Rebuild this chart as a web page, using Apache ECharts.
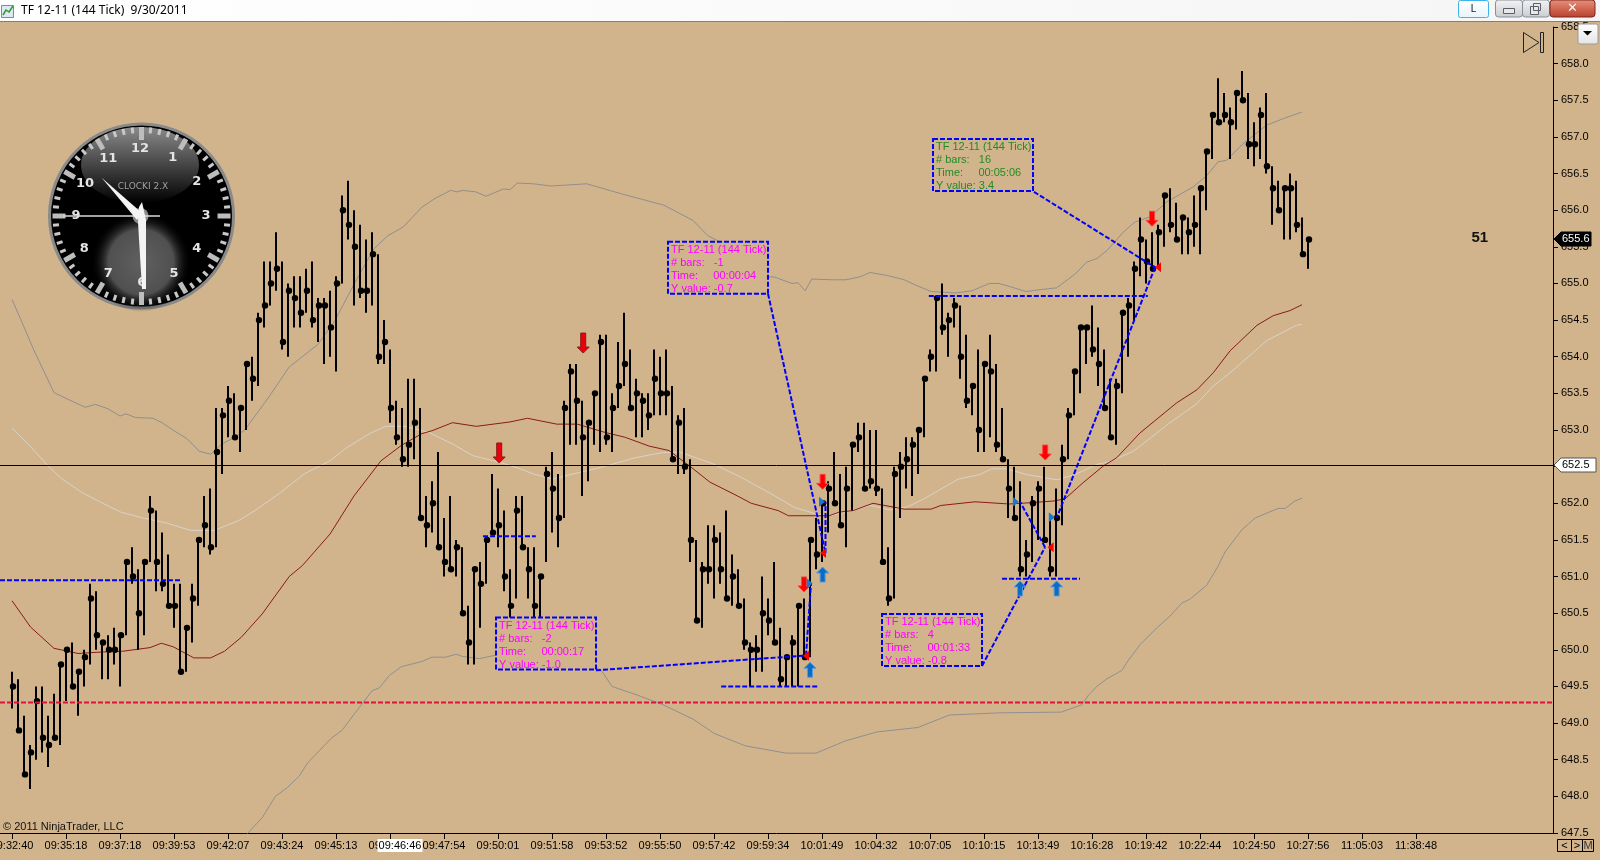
<!DOCTYPE html>
<html><head><meta charset="utf-8">
<style>html,body{margin:0;padding:0;background:#d2b48c;overflow:hidden}#c{width:1600px;height:860px}</style>
<script src="https://cdn.jsdelivr.net/npm/echarts@6/dist/echarts.min.js"></script>
</head><body><div id="c"></div>
<script>
// ---- tick labels
const timeLabels = ['09:32:40','09:35:18','09:37:18','09:39:53','09:42:07','09:43:24','09:45:13','09:46:12','09:47:54','09:50:01','09:51:58','09:53:52','09:55:50','09:57:42','09:59:34','10:01:49','10:04:32','10:07:05','10:10:15','10:13:49','10:16:28','10:19:42','10:22:44','10:24:50','10:27:56','11:05:03','11:38:48'];
// ---- bars
const highs = [649.7,649.6,649.1,648.7,649.5,649.5,649.1,649.4,649.8,650.0,
650.1,649.7,650.0,650.9,650.8,650.1,650.2,650.3,650.2,651.2,
651.4,651.1,651.2,652.1,651.9,651.6,651.3,650.9,650.9,650.3,
650.9,651.5,652.1,652.2,653.3,653.3,653.6,653.5,653.3,653.9,
654.0,654.6,655.3,655.3,655.7,655.3,655.0,655.1,655.1,655.2,
655.3,654.8,654.8,654.9,655.1,656.2,656.4,656.0,655.8,655.6,
655.7,655.4,654.5,654.1,653.4,653.3,653.7,653.7,653.3,652.1,
652.3,652.7,651.8,652.1,651.5,651.4,650.6,651.1,651.2,651.5,
652.4,652.2,651.9,651.1,652.1,652.1,651.4,651.4,651.0,652.5,
652.7,652.4,653.4,653.9,653.9,653.4,653.1,653.5,654.3,654.3,
653.5,654.2,654.6,654.1,653.7,653.5,653.5,654.1,654.0,654.1,
653.6,653.2,653.3,652.6,651.5,651.2,651.7,651.7,651.6,651.9,
651.3,651.1,650.7,650.1,650.2,651.0,650.7,651.2,650.3,649.9,
650.2,650.6,650.7,651.5,651.8,652.0,652.3,652.7,652.4,652.5,
652.8,653.1,653.1,653.0,653.0,652.2,651.4,652.5,652.7,652.9,
652.9,653.0,653.7,654.1,654.8,655.0,654.6,654.8,654.7,654.3,
653.6,654.1,653.9,654.3,653.9,653.3,652.6,652.5,652.3,651.5,
652.1,652.3,652.5,651.8,652.2,652.8,653.3,653.8,654.4,654.4,
654.7,654.4,654.1,653.7,653.7,654.6,654.8,655.3,655.9,655.6,
655.7,655.8,656.2,656.3,656.1,655.9,655.9,656.2,656.3,656.8,
657.3,657.8,657.6,657.4,657.6,657.9,657.6,657.2,657.4,657.6,
656.6,656.4,656.3,656.5,656.4,655.9,655.6];
const lows = [649.2,648.9,648.3,648.1,648.5,648.6,648.4,648.8,648.7,649.3,
649.5,649.1,649.5,649.8,650.0,649.6,649.6,649.8,649.5,650.2,
650.9,650.0,650.2,651.2,650.8,650.8,650.6,650.3,649.7,649.7,
650.1,650.6,651.4,651.3,651.4,652.4,652.9,652.9,652.7,653.0,
653.4,653.6,654.4,654.7,654.9,654.1,654.0,654.4,654.4,654.6,
654.4,654.2,653.9,654.0,653.8,655.0,655.6,654.7,654.8,654.6,
654.7,653.9,653.9,653.1,652.8,652.5,652.5,652.6,651.8,651.4,
651.6,651.4,651.0,651.1,651.0,650.5,649.8,649.8,650.3,650.9,
651.6,651.4,650.8,650.4,650.7,651.4,650.7,650.4,650.4,651.2,
651.6,651.4,651.8,652.8,652.8,652.1,652.3,652.8,652.7,652.8,
652.7,653.3,653.6,653.3,652.9,652.9,653.0,653.2,653.2,653.2,
652.6,652.4,652.4,651.2,650.4,650.3,650.9,650.7,650.9,650.7,
650.6,650.6,650.0,649.5,649.7,649.7,650.2,650.1,649.5,649.5,
649.5,649.5,649.9,649.9,651.1,651.2,651.6,652.0,651.7,651.4,
651.9,652.7,652.2,652.2,652.1,651.2,650.6,650.7,651.8,652.2,
652.1,652.4,652.9,653.8,653.8,654.3,654.0,654.4,653.7,653.3,
653.2,652.7,652.7,652.9,652.7,652.6,651.8,651.8,651.0,651.0,
651.2,651.5,651.5,651.0,651.0,651.7,652.6,653.2,653.5,653.9,
654.0,653.6,653.3,652.9,652.8,653.5,654.0,654.5,655.1,655.0,
655.2,655.2,655.5,655.7,655.6,655.4,655.4,655.5,655.4,656.0,
656.7,657.2,657.2,656.7,657.1,657.5,656.7,656.6,656.7,656.5,
655.8,656.0,655.6,655.6,655.7,655.4,655.2];
const closes = [649.5,648.9,648.3,648.6,649.3,648.8,648.7,648.8,649.8,650.0,
649.5,649.7,649.9,650.7,650.2,650.1,650.0,650.0,650.2,651.2,
651.0,650.5,651.2,651.9,651.2,650.9,650.6,650.6,649.7,650.3,
650.7,651.5,651.7,651.4,652.7,653.2,653.4,652.9,653.3,653.9,
653.7,654.5,654.7,655.0,655.2,654.2,654.9,654.8,654.6,654.9,
654.5,654.7,654.7,654.4,655.0,656.0,655.8,655.5,654.9,654.9,
655.4,654.0,654.2,653.3,652.9,652.6,652.8,653.1,651.8,651.7,
652.0,651.4,651.2,651.1,651.4,650.5,650.1,651.1,650.9,651.5,
651.6,651.7,651.0,650.6,651.9,651.4,651.1,650.6,651.0,652.4,
652.2,651.8,653.3,653.8,653.4,652.9,653.1,653.5,654.2,652.9,
653.3,653.6,653.9,653.3,653.5,653.4,653.2,653.7,653.5,653.5,
652.6,653.1,652.5,651.5,650.4,651.1,651.1,651.5,651.1,650.7,
651.0,650.6,650.1,650.0,650.0,650.5,650.4,650.1,649.6,649.9,
650.1,650.6,649.9,651.5,651.3,652.0,652.2,652.0,651.7,652.2,
652.8,652.9,652.2,652.3,652.2,651.2,650.7,652.4,652.5,652.6,
652.8,653.0,653.7,654.0,654.8,654.4,654.5,654.7,654.0,653.4,
653.6,653.0,653.9,653.8,652.8,652.6,652.2,651.8,651.1,651.3,
652.0,652.2,651.5,651.1,651.8,652.6,653.2,653.8,654.4,654.4,
654.1,653.9,653.3,652.9,653.6,654.6,654.7,655.2,655.6,655.3,
655.2,655.7,656.2,655.8,655.6,655.9,655.7,655.8,656.3,656.8,
657.3,657.2,657.3,657.2,657.6,657.5,656.9,656.9,657.3,656.6,
656.3,656.0,656.3,656.3,655.8,655.4,655.6];
// ---- indicator lines, as [bar index, price] readings
const upperBand = [[0,654.78],[1.4,654.52],[3.7,654.08],[7,653.51],[9.3,653.42],[12.2,653.31],[13.9,653.35],[16,653.29],[18,653.19],[19,653.22],[20.6,653.17],[23.5,653.16],[25,653.1],[27,652.99],[29.2,652.88],[31.2,652.71],[33.1,652.67],[35,652.81],[37.1,652.9],[38.8,653],[42.8,653.45],[46.2,653.86],[51,654.17],[53.8,654.49],[57,654.99],[60.3,655.47],[62.6,655.65],[65.2,655.77],[68.3,656.04],[70.5,656.16],[73.1,656.27],[74.2,656.25],[75.1,656.27],[77.3,656.25],[79,656.19],[81.9,656.29],[83,656.28],[84.2,656.37],[86.9,656.36],[89.8,656.33],[95.8,656.36],[101.7,656.22],[108.6,656.07],[113.5,655.86],[116,655.65],[117.7,655.58],[122,655.3],[126,655.09],[127,655.09],[130,655.0],[131,655.01],[132.2,654.9],[133.3,655.06],[136.7,655.05],[139,655.05],[141.3,655.09],[143,655.15],[145.8,655.11],[148.7,655.05],[150.8,654.97],[153.2,654.89],[157.2,654.87],[160,654.9],[162.9,655],[164.5,655],[166.2,654.96],[169,654.89],[171.8,654.92],[174.1,654.94],[177.2,655.13],[179.1,655.29],[180.8,655.34],[182.5,655.45],[185.2,655.7],[187.2,655.84],[189.7,655.91],[192.4,656.11],[196.9,656.32],[199.1,656.47],[201,656.66],[202.4,656.68],[205.2,656.91],[209.1,657.16],[211.9,657.25],[215,657.34]];
const lowerBand = [[39.1,647.48],[41.7,647.71],[43.9,648.0],[45.9,648.12],[47.9,648.28],[49.3,648.46],[53.3,648.8],[55,648.9],[57.2,649.14],[60,649.44],[61.2,649.48],[62.9,649.65],[64.9,649.77],[68.3,649.84],[70,649.9],[72.3,649.9],[74,649.94],[75.1,649.91],[77.9,649.88],[80.8,649.93],[85,649.95],[90,649.95],[95,649.88],[98.3,649.71],[100,649.5],[104.3,649.38],[108.5,649.25],[113.6,649.05],[117,648.86],[122.2,648.69],[129,648.59],[134,648.59],[139,648.76],[144.2,648.88],[151,648.94],[156.2,649.11],[164.7,649.14],[174.9,649.15],[178.3,649.25],[179.4,649.38],[180.8,649.5],[182.4,649.6],[185,649.72],[186,649.85],[188,650.07],[190.8,650.3],[193,650.46],[195,650.64],[196.3,650.69],[199.1,650.88],[201,651.14],[202.2,651.34],[205,651.64],[207.2,651.8],[211,651.93],[212.2,651.93],[213.8,652.03],[215,652.07]];
const middleBand = [[0,653.02],[0.5,652.99],[3.7,652.72],[6,652.51],[8.2,652.34],[11.6,652.15],[14.4,652.03],[18.1,651.88],[21.8,651.8],[25.8,651.73],[29.7,651.63],[33.7,651.63],[37.7,651.76],[40.5,651.9],[44.8,652.15],[48.7,652.4],[53,652.58],[55.8,652.76],[59.8,652.96],[62.3,653.05],[65.5,653.05],[69.4,652.97],[73.4,652.81],[76.8,652.65],[81.3,652.56],[84.7,652.47],[86.9,652.4],[90.2,652.33],[92.5,652.38],[98.2,652.49],[103.8,652.62],[108.3,652.69],[111.2,652.7],[116.8,652.54],[121.4,652.36],[126.5,652.13],[130.5,651.94],[133.8,651.86],[136.2,651.83],[140.2,651.9],[143,651.97],[146.3,651.91],[149.2,651.95],[152,652.06],[157.7,652.33],[161.2,652.39],[163.3,652.47],[165.7,652.47],[169.2,652.39],[174.2,652.32],[177.4,652.4],[180.8,652.53],[183,652.57],[186.9,652.71],[193,653.1],[197.5,653.36],[200.2,653.6],[203,653.78],[206.9,654.06],[209.1,654.22],[214.1,654.43],[215,654.44]];
const emaLine = [[0,650.67],[3.1,650.31],[7,650.02],[8.2,650],[11,649.95],[15,649.97],[18.4,649.98],[23,650.03],[24.9,650.09],[26.9,650.04],[30.3,649.89],[33.1,649.89],[35.4,649.98],[38.2,650.17],[41.7,650.49],[46.2,651],[48.4,651.15],[53,651.58],[57,652.1],[61.5,652.58],[64.9,652.79],[68.3,652.95],[70,652.99],[73.4,653.1],[77.4,653.05],[83,653.11],[85.9,653.16],[90.8,653.08],[94.2,653.08],[98.7,652.97],[102.2,652.9],[106.2,652.78],[109.5,652.72],[112.9,652.51],[116.3,652.29],[120.9,652.1],[123.2,652],[127.7,651.9],[129.4,651.83],[133.8,651.83],[136.2,651.83],[137.9,651.88],[140.2,651.9],[143.5,652],[148.7,651.92],[153.2,651.92],[154.8,651.97],[160.5,652.02],[166.2,651.99],[170.2,652.01],[173.5,652.03],[175.5,652.06],[178.5,652.28],[181.9,652.51],[184.1,652.62],[188,652.96],[194.1,653.37],[197.5,653.55],[200.2,653.78],[203,654.08],[207.5,654.43],[210.2,654.56],[213,654.63],[215,654.71]];
// ---- drawn objects, in [bar index, price]
const rulerSegments = [
 [-2,650.95,28.3,650.95],[78.5,651.55,87.3,651.55],[118.2,649.5,134.3,649.5],[152.8,654.83,189.3,654.83],[165,650.97,178,650.97],
 [97.33,649.72,131.83,649.92],[132.33,649.92,133.17,650.91],
 [126,654.86,135.58,651.32],[135.58,651.32,135.58,652.02],
 [161.67,649.78,172.17,651.40],[172.17,651.40,168,652.02],
 [170.33,656.25,190.5,655.22],[190.5,655.22,174.17,651.81]];
const redLevel = 649.28;
const crosshairPrice = 652.52;
const lastPrice = 655.6;
const bigDownArrows = [[81.2,652.55],[95.2,654.05]];
const downArrows = [[135.1,652.19],[132,650.79],[172.2,652.59],[190,655.78]];
const upArrows = [[135.1,651.13],[133,649.83],[168,650.94],[174.1,650.94]];
const redTips = [[131.83,649.92],[134.67,651.32],[172.6,651.40],[190.5,655.22]];
const blueTips = [[133.45,650.91],[135.5,652.02],[167.8,652.02],[173.8,651.81]];
const rulerBoxes = [
 {at:[80.67,650.44], c:'#ff00ff', t:['TF 12-11 (144 Tick)','# bars:   -2','Time:     00:00:17','Y value: -1.0']},
 {at:[109.33,655.57], c:'#ff00ff', t:['TF 12-11 (144 Tick)','# bars:   -1','Time:     00:00:04','Y value: -0.7']},
 {at:[145,650.49], c:'#ff00ff', t:['TF 12-11 (144 Tick)','# bars:   4','Time:     00:01:33','Y value: -0.8']},
 {at:[153.5,656.97], c:'#228b22', t:['TF 12-11 (144 Tick)','# bars:   16','Time:     00:05:06','Y value: 3.4']}];

const FONT = '"Liberation Sans",Arial,sans-serif';
const bars = highs.map((h,i)=>[i,h,lows[i],closes[i]]);

function lineSeries(d,color,z){return {type:'line',data:d,showSymbol:false,silent:true,z:z,lineStyle:{color:color,width:1},clip:true};}
function custom(data,render,z,clip){return {type:'custom',data:data,renderItem:render,z:z,silent:true,clip:!!clip,encode:{x:0,y:1}};}

function renderBar(p,api){
  const a=api.coord([api.value(0),api.value(1)]),b=api.coord([api.value(0),api.value(2)]),c=api.coord([api.value(0),api.value(3)]);
  const x=Math.round(a[0]);
  return {type:'group',children:[
    {type:'rect',shape:{x:x-1,y:a[1],width:2,height:b[1]-a[1]},style:{fill:'#000'}},
    {type:'circle',shape:{cx:x+1,cy:c[1],r:3.2},style:{fill:'#000'}}]};
}
function renderSeg(color,width){return function(p,api){
  const a=api.coord([api.value(0),api.value(1)]),b=api.coord([api.value(2),api.value(3)]);
  return {type:'line',shape:{x1:a[0],y1:a[1],x2:b[0],y2:b[1]},style:{stroke:color,lineWidth:width,lineDash:[5,2]}};
};}
function arrowRender(fill,stroke,h,dir){return function(p,api){
  const t=api.coord([api.value(0),api.value(1)]);
  const x=t[0],y=t[1],s=dir; // tip at (x,y); body extends away from the tip
  const head=6, neck=6, half=2.5;
  const pts=[[x,y],[x+head,y-s*neck],[x+half,y-s*neck],[x+half,y-s*h],[x-half,y-s*h],[x-half,y-s*neck],[x-head,y-s*neck]];
  return {type:'polygon',shape:{points:pts},style:{fill:fill,stroke:stroke,lineWidth:1}};
};}
function tipRender(fill,dx){return function(p,api){
  const t=api.coord([api.value(0),api.value(1)]);
  const x=t[0],y=t[1];
  return {type:'polygon',shape:{points:[[x,y],[x+dx,y-5],[x+dx,y+5]]},style:{fill:fill}};
};}
function renderBox(p,api){
  const b=rulerBoxes[p.dataIndex];
  const t=api.coord(b.at);
  const kids=[{type:'rect',shape:{x:t[0],y:t[1],width:100,height:52},style:{fill:'#d2b48c',stroke:'#0000ff',lineWidth:2,lineDash:[5,2]}}];
  b.t.forEach((s,k)=>kids.push({type:'text',style:{text:s,x:t[0]+3,y:t[1]+8+13*k,fill:b.c,font:'11px '+FONT,verticalAlign:'middle',align:'left'}}));
  return {type:'group',children:kids};
}
function tagRender(fill,txt,stroke,w){return function(p,api){
  const t=api.coord([0,api.value(1)]);
  const y=Math.round(t[1]),x=1554;
  return {type:'group',children:[
    {type:'polygon',shape:{points:[[x,y],[x+7,y-7],[x+w,y-7],[x+w,y+7],[x+7,y+7]]},style:{fill:fill,stroke:stroke,lineWidth:1}},
    {type:'text',style:{text:api.value(2).toFixed(1),x:x+8,y:y,fill:txt,font:'11px '+FONT,verticalAlign:'middle',align:'left'}}]};
};}

// --- decoration: window frame and clock
const deco=[];
function T(text,x,y,o){deco.push({type:'text',z:100,x:x,y:y,style:Object.assign({text:text,fill:'#000',font:'11px '+FONT,verticalAlign:'middle',align:'left'},o||{})});}
function R(x,y,w,h,fill,stroke,r){deco.push({type:'rect',z:100,shape:{x:x,y:y,width:w,height:h,r:r||0},style:{fill:fill,stroke:stroke||null,lineWidth:1}});}
const G=(a,b,c)=>({type:'linear',x:0,y:0,x2:c?1:0,y2:c?0:1,colorStops:[{offset:0,color:a},{offset:1,color:b}]});
R(0,0,1600,21,G('#ffffff','#f5f5f5',true));
deco.push({type:'line',z:100,shape:{x1:0,y1:21.5,x2:1600,y2:21.5},style:{stroke:'#808080',lineWidth:1}});
R(1.5,5.5,12,12,'#dfe8f5','#7a8aa0');
deco.push({type:'polyline',z:101,shape:{points:[[3,15],[6,10],[9,12],[13,6]]},style:{stroke:'#2d9a2d',lineWidth:1.5,fill:null}});
T('TF 12-11 (144 Tick)  9/30/2011',21,11,{font:'12px "Noto Sans",sans-serif'});
R(1458.5,0.5,30,17,G('#ffffff','#e8f4fb'),'#3fb4e8',2);
T('L',1473.5,8.5,{align:'center',fill:'#223',font:'11px "Noto Sans",sans-serif'});
R(1495.5,0,27,17,G('#f4f4f4','#c9ccd0'),'#8a8f96',3);
R(1522.5,0,27,17,G('#f4f4f4','#c9ccd0'),'#8a8f96',3);
R(1503.5,8.5,11,5,'#e6e8ea','#5b6068');
R(1530.5,6.5,8,8,'#e6e8ea','#5b6068');R(1533.5,3.5,7,7,null,'#5b6068');
R(1550,0,45,17,G('#e8907c','#b8402c'),'#7a2a20',3);
T('✕',1572.5,8.5,{align:'center',fill:'#f4f4f4',font:'bold 13px "DejaVu Sans",sans-serif'});
deco.push({type:'polygon',z:100,shape:{points:[[1523.5,32.5],[1539,42.5],[1523.5,52.5]]},style:{fill:null,stroke:'#222',lineWidth:1}});
R(1540.5,32.5,3,20,null,'#222');
R(1578,24,20,20,G('#ffffff','#e4e4e4'),'#9a9a9a',2);
deco.push({type:'polygon',z:101,shape:{points:[[1583,31],[1592,31],[1587.5,35.5]]},style:{fill:'#000'}});
T('© 2011 NinjaTrader, LLC',3,827,{fill:'#111'});
T('51',1471.5,238,{font:'bold 15px '+FONT,fill:'#111'});
R(377.5,839,45,13,'#fff');
T('09:46:46',400,846,{align:'center'});
R(1557.5,839.5,14,12,null,'#000');R(1571.5,839.5,11,12,null,'#000');R(1582.5,839.5,11,12,null,'#000');
T('<',1564.5,846,{align:'center'});T('>',1577,846,{align:'center'});T('M',1588,846,{align:'center',fill:'#333'});
// clock
const cx=141.5,cy=216;
deco.push({type:'circle',z:100,shape:{cx:cx,cy:cy,r:92},style:{fill:'#000',stroke:'#8a8a8a',lineWidth:3}});
deco.push({type:'ellipse',z:101,shape:{cx:140,cy:165,rx:59,ry:38},style:{fill:G('#8a8a8a','#000000')}});
deco.push({type:'ellipse',z:101,shape:{cx:141,cy:262,rx:74,ry:50},style:{fill:{type:'radial',x:.5,y:.5,r:.5,colorStops:[{offset:0,color:'#606060'},{offset:.65,color:'#505050'},{offset:1,color:'rgba(0,0,0,0)'}]}}});
for(let k=0;k<60;k++){
  const a=k*Math.PI/30,big=k%5===0,sq=k%15===0,ro=89,ri=sq?76:(big?77:83);
  deco.push({type:'line',z:102,shape:{x1:cx+Math.sin(a)*ri,y1:cy-Math.cos(a)*ri,x2:cx+Math.sin(a)*ro,y2:cy-Math.cos(a)*ro},style:{stroke:big?'#bdbdbd':'#c8c8c8',lineWidth:big?5:3}});
}
[['12',140,149],['1',172.7,158],['2',196.7,181.7],['3',206,215.7],['4',196.7,248.3],['5',174,273.3],['6',141.7,282.3],['7',108.3,273.3],['8',84.3,249],['9',76,216],['10',85,183.3],['11',108.3,159]].forEach(d=>{
  deco.push({type:'text',z:103,x:d[1],y:d[2],style:{text:d[0],fill:'#e4e4e4',font:'bold 13px "DejaVu Sans",sans-serif',align:'center',verticalAlign:'middle'}});
});
deco.push({type:'text',z:103,x:143,y:187,style:{text:'CLOCKI 2.X',fill:'#a0a0a0',font:'9px "DejaVu Sans",sans-serif',align:'center',verticalAlign:'middle'}});
deco.push({type:'circle',z:104,shape:{cx:cx-1,cy:216,r:8},style:{fill:'#8a8a8a'}});
deco.push({type:'line',z:105,shape:{x1:63,y1:216,x2:160,y2:216},style:{stroke:'#d8d8d8',lineWidth:1.5}});
deco.push({type:'polygon',z:105,shape:{points:[[101.7,177.7],[142,213],[137,220]]},style:{fill:'#f4f4f4'}});
deco.push({type:'polygon',z:105,shape:{points:[[139,207],[142,202],[146,220],[146,289],[142,289],[138,222]]},style:{fill:'#f4f4f4'}});

const option={
  animation:false,
  backgroundColor:'#d2b48c',
  grid:{left:0,right:47,top:27,bottom:27,containLabel:false,outerBoundsMode:'none'},
  xAxis:{type:'value',min:-2,max:256.83,splitLine:{show:false},
    axisLine:{onZero:false,lineStyle:{color:'#000',width:1}},
    axisTick:{length:6,lineStyle:{color:'#000'},customValues:timeLabels.map((_,k)=>k*9)},
    axisLabel:{customValues:timeLabels.map((_,k)=>k*9),formatter:v=>timeLabels[Math.round(v/9)]||'',color:'#000',fontFamily:FONT,fontSize:11,margin:7,hideOverlap:false}},
  yAxis:{type:'value',position:'right',min:647.5,max:658.5,interval:.5,splitLine:{show:false},
    axisLine:{show:true,onZero:false,lineStyle:{color:'#000',width:1}},
    axisTick:{show:true,length:5,lineStyle:{color:'#000'}},
    axisLabel:{formatter:v=>v.toFixed(1),color:'#000',fontFamily:FONT,fontSize:11,margin:8}},
  graphic:{elements:deco},
  series:[
    lineSeries(upperBand,'#8f8f8f',2),
    lineSeries(lowerBand,'#8f8f8f',2),
    lineSeries(middleBand,'#d8d3cb',2),
    lineSeries(emaLine,'#8b1a1a',2),
    custom(bars,renderBar,3,true),
    custom([[-2,redLevel,256.83,redLevel]],renderSeg('#dc143c',2),4,true),
    custom(rulerSegments,renderSeg('#0000ff',2),5,true),
    custom(bigDownArrows,arrowRender('#e8000a','#8a1a1a',20,1),6),
    custom(downArrows,arrowRender('#ff0000','#ff4040',15,1),6),
    custom(upArrows,arrowRender('#0a6cc4','#5a9ad8',15,-1),6),
    custom(redTips,tipRender('#ff0000',6),6),
    custom(blueTips,tipRender('#1a78c8',-6),6),
    custom(rulerBoxes.map(b=>b.at),renderBox,7),
    custom([[-2,crosshairPrice]],function(p,api){
      const a=api.coord([-2,api.value(1)]),b=api.coord([256.83,api.value(1)]);
      return {type:'line',shape:{x1:a[0],y1:Math.round(a[1])+.5,x2:b[0],y2:Math.round(a[1])+.5},style:{stroke:'#000',lineWidth:1}};
    },8),
    custom([[0,crosshairPrice,652.5]],tagRender('#ffffff','#000','#555',42),9),
    custom([[0,lastPrice,lastPrice]],tagRender('#000000','#ffffff','#000',37),9)
  ]
};
const chart=echarts.init(document.getElementById('c'),null,{renderer:'canvas',width:1600,height:860});
chart.setOption(option);
</script></body></html>
